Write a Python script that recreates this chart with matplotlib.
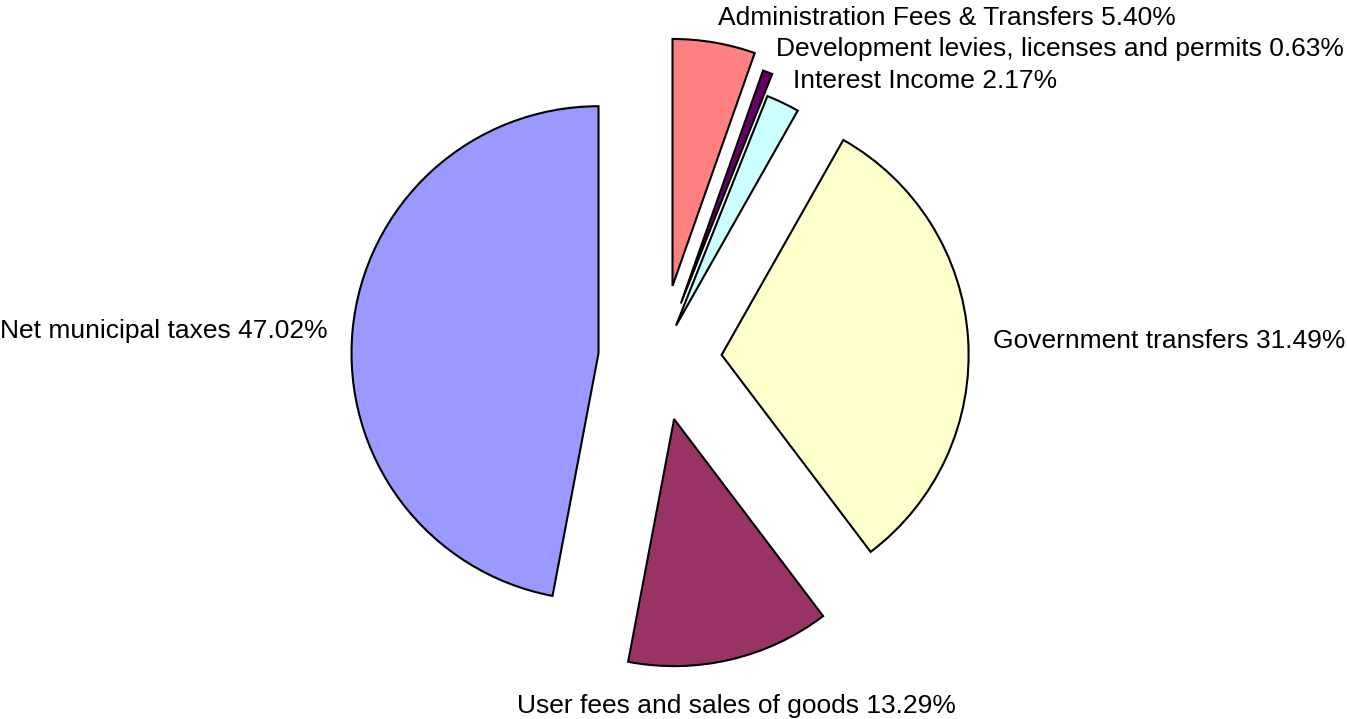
import matplotlib
matplotlib.use("Agg")
import matplotlib.pyplot as plt

categories = ["Administration Fees & Transfers", "Development levies, licenses and permits",
              "Interest Income", "Government transfers", "User fees and sales of goods",
              "Net municipal taxes"]
values = [5.40, 0.63, 2.17, 31.49, 13.29, 47.02]
colors = ["#FF8080", "#660066", "#CCFFFF", "#FFFFCC", "#993366", "#9999FF"]
explode = [0.30, 0.24, 0.15, 0.25, 0.25, 0.25]

labels = [f"{c} {v:.2f}%" for c, v in zip(categories, values)]

plt.rcParams['font.family'] = ['Liberation Sans', 'DejaVu Sans']

W, H, dpi = 1347, 719, 100
fig = plt.figure(figsize=(W / dpi, H / dpi), dpi=dpi)
ax = fig.add_axes([0, 0, 1, 1])

R = 247.0
cx, cy = 660.0, 359.0

wedges, texts = ax.pie(values, labels=labels, colors=colors, explode=explode,
                       startangle=90, counterclock=False, labeldistance=1.1,
                       wedgeprops=dict(edgecolor="black", linewidth=1.5),
                       textprops=dict(fontsize=19, color="black"))

# small vertical nudges (pixels, positive = down)
nudges = [0, 0, 0, 4, 10, 3]
for t, n in zip(texts, nudges):
    tx, ty = t.get_position()
    t.set_position((tx, ty - n / R))
texts[4].set_ha("center")
texts[4].set_va("top")

ax.set_aspect("equal")
ax.set_xlim(-cx / R, (W - cx) / R)
ax.set_ylim(-(H - cy) / R, cy / R)
ax.axis("off")

fig.savefig("out.png", dpi=dpi, facecolor="white")
